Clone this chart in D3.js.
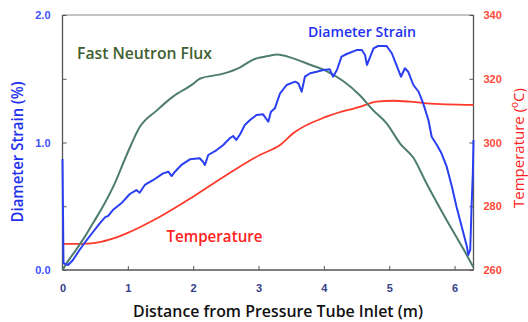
<!DOCTYPE html>
<html><head><meta charset="utf-8">
<script src="https://cdn.jsdelivr.net/npm/d3@7"></script>
<style>body{margin:0;background:#fff}svg{display:block}</style>
</head><body>
<svg id="c" width="528" height="322"></svg>
<script>
// Data (distance m, value)
const xTicks = [0,1,2,3,4,5,6];
const leftTicks = [0,0.5,1,1.5,2];
const leftLabels = ["0.0","","1.0","","2.0"];
const rightTicks = [260,280,300,320,340];

const strainX = [0,0.015,0.086,0.16,0.26,0.37,0.47,0.57,0.65,0.70,0.77,0.90,1.03,1.13,1.18,1.26,1.39,1.54,1.62,1.67,1.72,1.82,1.95,2.10,2.15,2.18,2.23,2.36,2.46,2.56,2.61,2.66,2.72,2.79,2.87,2.97,3.07,3.15,3.19,3.25,3.33,3.43,3.56,3.61,3.66,3.71,3.79,3.89,3.99,4.09,4.14,4.20,4.27,4.35,4.50,4.58,4.63,4.66,4.71,4.76,4.83,4.96,5.04,5.11,5.18,5.24,5.29,5.37,5.45,5.52,5.60,5.65,5.73,5.80,5.88,5.96,6.03,6.11,6.19,6.21,6.24,6.26,6.28,6.29];
const strainY = [0.87,0.053,0.039,0.078,0.157,0.235,0.30,0.366,0.413,0.424,0.47,0.523,0.596,0.627,0.606,0.667,0.706,0.758,0.771,0.737,0.771,0.824,0.868,0.876,0.849,0.824,0.902,0.941,0.98,1.033,1.051,1.02,1.067,1.137,1.176,1.216,1.221,1.163,1.242,1.268,1.386,1.451,1.477,1.464,1.398,1.516,1.543,1.555,1.569,1.574,1.516,1.569,1.673,1.694,1.725,1.725,1.686,1.608,1.673,1.739,1.757,1.757,1.70,1.608,1.516,1.582,1.555,1.451,1.398,1.307,1.176,1.045,0.98,0.915,0.81,0.653,0.496,0.34,0.183,0.118,0.157,0.496,0.758,1.02];

const fluxX = [0,0.06,0.21,0.34,0.47,0.62,0.80,0.98,1.18,1.44,1.69,2.0,2.10,2.46,2.72,2.92,3.17,3.28,3.53,3.79,4.04,4.30,4.55,4.76,4.96,5.17,5.37,5.57,5.88,6.14,6.29];
const fluxY = [0,0.05,0.16,0.26,0.37,0.50,0.68,0.90,1.12,1.25,1.36,1.46,1.50,1.54,1.59,1.65,1.68,1.69,1.66,1.61,1.56,1.48,1.37,1.25,1.15,0.99,0.88,0.68,0.39,0.16,0.02];

const tempX = [0,0.3,0.47,0.73,0.98,1.49,2.0,2.51,3.02,3.33,3.53,4.04,4.55,4.81,5.06,5.32,5.57,6.29];
const tempY = [268.2,268.2,268.4,269.6,271.5,276.7,283.0,289.8,296.1,299.2,302.9,308.1,311.2,312.8,313.1,312.8,312.3,311.8];

const svg = d3.select("#c");
const L=62.5, R=473.5, T=15, B=270;
const x = d3.scaleLinear().domain([0,6.29]).range([L,R]);
const yL = d3.scaleLinear().domain([0,2]).range([B,T]);
const yR = d3.scaleLinear().domain([260,340]).range([B,T]);

const axisCol = "#555";
// frame
svg.append("line").attr("x1",L).attr("x2",R).attr("y1",T).attr("y2",T).attr("stroke","#888").attr("stroke-width",1.2);
svg.append("line").attr("x1",R).attr("x2",R).attr("y1",T).attr("y2",B).attr("stroke",axisCol).attr("stroke-width",1.3);
svg.append("line").attr("x1",L).attr("x2",L).attr("y1",T).attr("y2",B).attr("stroke",axisCol).attr("stroke-width",1.3);
svg.append("line").attr("x1",L).attr("x2",R).attr("y1",B).attr("y2",B).attr("stroke",axisCol).attr("stroke-width",1.3);

const font = "Arial, 'Liberation Sans', sans-serif";
// bottom axis
const gx = svg.append("g").attr("transform",`translate(0,${B})`)
  .call(d3.axisBottom(x).tickValues(xTicks).tickSizeInner(-4).tickSizeOuter(0).tickPadding(14).tickFormat(d3.format("d")));
gx.select(".domain").remove();
gx.selectAll(".tick line").attr("stroke",axisCol);
gx.selectAll("text").attr("fill","#33408a").attr("font-size",11).attr("font-weight","bold").attr("font-family",font);

const gl = svg.append("g").attr("transform",`translate(${L},0)`)
  .call(d3.axisLeft(yL).tickValues(leftTicks).tickSizeInner(-4).tickSizeOuter(0).tickPadding(12).tickFormat((d,i)=>leftLabels[i]));
gl.select(".domain").remove();
gl.selectAll(".tick line").attr("stroke",axisCol);
gl.selectAll("text").attr("fill","#4050ff").attr("font-size",11).attr("font-weight","bold").attr("font-family",font);

const gr = svg.append("g").attr("transform",`translate(${R},0)`)
  .call(d3.axisRight(yR).tickValues(rightTicks).tickSizeInner(-4).tickSizeOuter(0).tickPadding(10).tickFormat(d3.format("d")));
gr.select(".domain").remove();
gr.selectAll(".tick line").attr("stroke",axisCol);
gr.selectAll("text").attr("fill","#ff4a3a").attr("font-size",11).attr("font-weight","bold").attr("font-family",font);

const zip = (a,b)=>a.map((v,i)=>[v,b[i]]);
const lineL = d3.line().x(d=>x(d[0])).y(d=>yL(d[1]));
const lineR = d3.line().x(d=>x(d[0])).y(d=>yR(d[1]));

svg.append("path").attr("d",lineR.curve(d3.curveMonotoneX)(zip(tempX,tempY)))
  .attr("fill","none").attr("stroke","#ff3a2a").attr("stroke-width",1.8);
svg.append("path").attr("d",lineL.curve(d3.curveMonotoneX)(zip(fluxX,fluxY)))
  .attr("fill","none").attr("stroke","#4e7d70").attr("stroke-width",2);
svg.append("path").attr("d",d3.line().x(d=>x(d[0])).y(d=>yL(d[1])).curve(d3.curveLinear)(zip(strainX,strainY)))
  .attr("fill","none").attr("stroke","#2b3ff2").attr("stroke-width",2).attr("stroke-linejoin","round");

const tf = "'Open Sans', 'Noto Sans', sans-serif";
function lbl(t, px, py, col, size, len){
  return svg.append("text").attr("x",px).attr("y",py).attr("fill",col)
    .attr("font-size",size).attr("font-weight",600).attr("font-family",tf)
    .attr("textLength",len).attr("lengthAdjust","spacingAndGlyphs").text(t);
}
lbl("Fast Neutron Flux",77,59,"#3f5f30",16,135);
lbl("Diameter Strain",308,36.5,"#1f30ee",14.5,108);
lbl("Temperature",166.5,242,"#ff2222",15.5,96);
lbl("Distance from Pressure Tube Inlet (m)",133,316.5,"#111",15.5,290);

svg.append("text").attr("transform","translate(23,152) rotate(-90)").attr("text-anchor","middle")
  .attr("fill","#1f30ee").attr("font-size",15.5).attr("font-weight",600).attr("font-family",tf)
  .attr("textLength",141).attr("lengthAdjust","spacingAndGlyphs").text("Diameter Strain (%)");

const rt = svg.append("text").attr("transform","translate(524,148) rotate(-90)").attr("text-anchor","middle")
  .attr("fill","#ff2020").attr("font-size",15).attr("font-weight",500).attr("font-family",tf);
rt.append("tspan").text("Temperature (");
rt.append("tspan").attr("font-size",10).attr("dy",-6).text("o");
rt.append("tspan").attr("dy",6).text("C)");
</script>
</body></html>
